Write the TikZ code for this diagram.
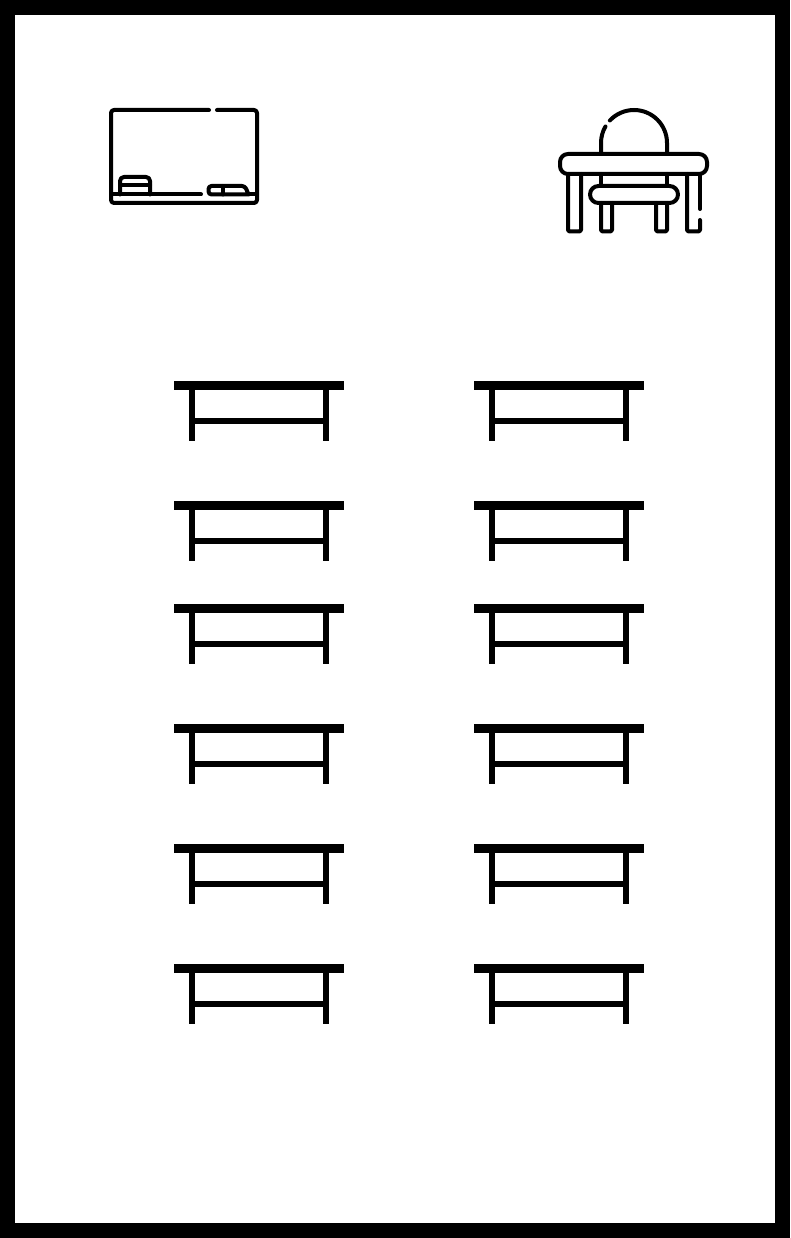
\documentclass[tikz,border=0pt]{standalone}
\usepackage{tikz}
\tikzset{
  icon/.style={line width=4pt, line cap=round, line join=round, black},
  bench/.pic={
    \fill[black] (0,0) rectangle (170,9);
    \draw[line width=6.5pt] (18,9) -- (18,60);
    \draw[line width=6.5pt] (152,9) -- (152,60);
    \draw[line width=6pt] (18,39.5) -- (152,39.5);
  }
}
\begin{document}
\begin{tikzpicture}[x=1pt, y=-1pt]
  \fill[black] (0,0) rectangle (790,1238);
  \fill[white] (15,15) rectangle (775,1223);

  % board
  \draw[icon, rounded corners=3pt] (209,110) -- (111,110) -- (111,203) -- (257,203) -- (257,110) -- (217,110);
  \draw[icon] (111,194.5) -- (201,194.5);
  \draw[icon] (248,194.5) -- (257,194.5);
  \draw[icon, rounded corners=4pt] (120,194.5) -- (120,177) -- (150,177) -- (150,194.5);
  \draw[icon] (120,185.5) -- (150,185.5);
  \draw[icon, rounded corners=3pt] (248,194.5) -- (208.5,194.5) -- (208.5,186) -- (245,186) -- (248.5,194.5);
  \draw[icon] (222.5,186) -- (222.5,194.5);

  % desk
  \draw[icon] (601,154) -- (601,143) arc[start angle=180, end angle=150, radius=33pt];
  \draw[icon] (667,154) -- (667,143) arc[start angle=0, end angle=137, radius=33pt];
  \draw[icon, rounded corners=8pt] (560,174) -- (560,154) -- (707,154) -- (707,174) -- cycle;
  \draw[icon, rounded corners=8.5pt] (590,186) rectangle (678,203);
  \draw[icon] (601,174) -- (601,186);
  \draw[icon] (667,174) -- (667,186);
  \draw[icon, rounded corners=1.5pt] (568,174) -- (568,231.5) -- (581,231.5) -- (581,174);
  \draw[icon, rounded corners=1.5pt] (601,203) -- (601,231.5) -- (612,231.5) -- (612,203);
  \draw[icon, rounded corners=1.5pt] (656,203) -- (656,231.5) -- (667,231.5) -- (667,203);
  \draw[icon, rounded corners=1.5pt] (700,220) -- (700,231.5) -- (687,231.5) -- (687,174);
  \draw[icon] (700,174) -- (700,209);

  % benches
  \foreach \rowy in {381,501,604,724,844,964}{
    \pic at (174,\rowy) {bench};
    \pic at (474,\rowy) {bench};
  }
\end{tikzpicture}
\end{document}
